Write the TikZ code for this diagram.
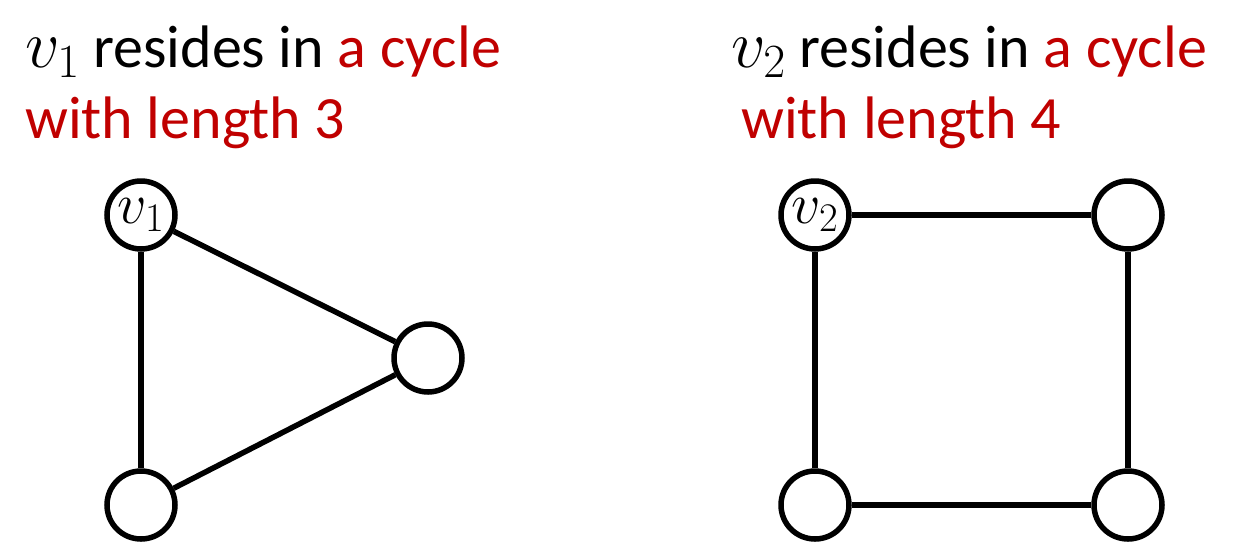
\RequirePackage{fix-cm}
\documentclass[tikz,border=0pt]{standalone}
\usepackage{fontspec}
\setmainfont{Carlito}
\usepackage{xcolor}
\definecolor{cyred}{RGB}{192,0,0}
\usetikzlibrary{positioning}
\newcommand{\vname}[1]{{\fontsize{68}{71}\selectfont$v_{#1}$}}

\begin{document}
\begin{tikzpicture}[
  x=1pt,y=-1pt,
  every node/.style={inner sep=0pt},
  caption/.style={anchor=base west,font=\fontsize{60}{71}\selectfont},
  vtx/.style={draw,circle,line width=5.5pt,minimum size=68pt,fill=white,font=\fontsize{58}{60}\selectfont},
  edge/.style={line width=5.5pt},
]
  \useasboundingbox (0,0) rectangle (1248,550);

  % Captions
  \node[caption] (capa1) at (25,67) {\vname{1} resides in \textcolor{cyred}{a cycle}};
  \node[caption,text=cyred] (capa2) at (25,138) {with length 3};
  \node[caption] (capb1) at (731,67) {\vname{2} resides in \textcolor{cyred}{a cycle}};
  \node[caption,text=cyred] (capb2) at (741,138) {with length 4};

  % Cycle of length 3
  \node[vtx] (a1) at (141,215) {$v_1$};
  \node[vtx] (a2) at (428,358) {};
  \node[vtx] (a3) at (141,505) {};
  \draw[edge] (a1) -- (a3);
  \draw[edge] (a3) -- (a2);
  \draw[edge] (a2) -- (a1);

  % Cycle of length 4
  \node[vtx] (b1) at (815,215) {$v_2$};
  \node[vtx] (b2) at (1128,215) {};
  \node[vtx] (b3) at (1128,505) {};
  \node[vtx] (b4) at (815,505) {};
  \draw[edge] (b1) -- (b2);
  \draw[edge] (b2) -- (b3);
  \draw[edge] (b3) -- (b4);
  \draw[edge] (b4) -- (b1);
\end{tikzpicture}
\end{document}
